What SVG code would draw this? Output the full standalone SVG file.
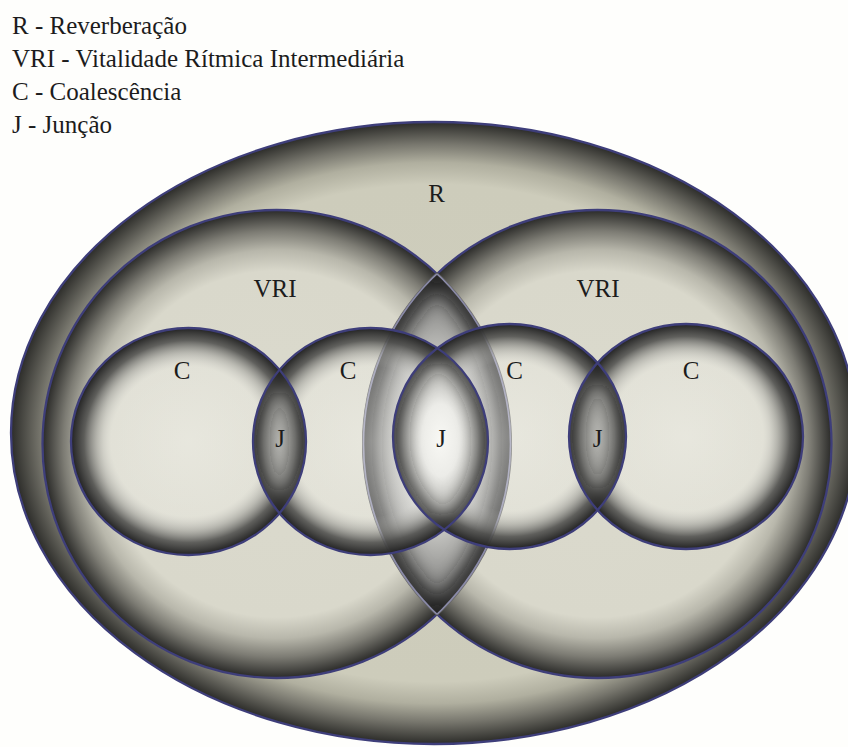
<svg xmlns="http://www.w3.org/2000/svg" width="848" height="747" viewBox="0 0 848 747">
<style>
  .lg { font-size: 25px; }
  .lb { font-size: 25px; text-anchor: middle; }
  .st { fill: none; stroke: #3e3e7a; stroke-width: 2.3; }
  .faint { fill: none; stroke: #8a8aa8; stroke-width: 1.6; }
  .sh { fill: none; stroke: #1e1e1e; stroke-width: 14; }
  .shL { fill: none; stroke: #1a1a1a; stroke-width: 18; }
</style>
<defs>
  <ellipse id="eR" cx="434" cy="433" rx="423" ry="311"/>
  <ellipse id="eVL" cx="276.5" cy="444" rx="234" ry="234"/>
  <ellipse id="eVR" cx="597.5" cy="444" rx="234" ry="234"/>
  <ellipse id="eC1" cx="188.5" cy="441.5" rx="117.5" ry="113.5"/>
  <ellipse id="eC2" cx="370.5" cy="441.5" rx="117.5" ry="113.5"/>
  <ellipse id="eC3" cx="509.5" cy="436.5" rx="116.5" ry="112.5"/>
  <ellipse id="eC4" cx="686" cy="436.5" rx="117" ry="112.5"/>

  <clipPath id="cpVL"><use href="#eVL"/></clipPath>
  <clipPath id="cpVR"><use href="#eVR"/></clipPath>
  <clipPath id="cpVLx"><ellipse cx="276.5" cy="444" rx="235.6" ry="235.6"/></clipPath>
  <clipPath id="cpVRx"><ellipse cx="597.5" cy="444" rx="235.6" ry="235.6"/></clipPath>
  <clipPath id="cpC1"><use href="#eC1"/></clipPath>
  <clipPath id="cpC2"><use href="#eC2"/></clipPath>
  <clipPath id="cpC3"><use href="#eC3"/></clipPath>
  <clipPath id="cpC4"><use href="#eC4"/></clipPath>

  <radialGradient id="gR">
    <stop offset="0" stop-color="#cfcebd"/>
    <stop offset="0.8" stop-color="#cdccbb"/>
    <stop offset="0.87" stop-color="#b0af9f"/>
    <stop offset="0.93" stop-color="#77766d"/>
    <stop offset="1" stop-color="#2c2c29"/>
  </radialGradient>
  <radialGradient id="gV">
    <stop offset="0" stop-color="#dbdacd"/>
    <stop offset="0.74" stop-color="#d9d8cb"/>
    <stop offset="0.83" stop-color="#b8b7ab"/>
    <stop offset="0.91" stop-color="#7d7c74"/>
    <stop offset="1" stop-color="#2a2a28"/>
  </radialGradient>
  <radialGradient id="gC">
    <stop offset="0" stop-color="#fafaf6" stop-opacity="0.42"/>
    <stop offset="0.66" stop-color="#f4f4f0" stop-opacity="0.32"/>
    <stop offset="0.78" stop-color="#a4a4a0" stop-opacity="0.6"/>
    <stop offset="0.89" stop-color="#525250" stop-opacity="0.9"/>
    <stop offset="1" stop-color="#222222" stop-opacity="1"/>
  </radialGradient>
  <radialGradient id="gL">
    <stop offset="0" stop-color="#eaeae6"/>
    <stop offset="0.45" stop-color="#d0d0cc"/>
    <stop offset="0.78" stop-color="#929290"/>
    <stop offset="1" stop-color="#555555"/>
  </radialGradient>
  <radialGradient id="gJs">
    <stop offset="0" stop-color="#b8b8b4"/>
    <stop offset="0.6" stop-color="#989894"/>
    <stop offset="1" stop-color="#5a5a58"/>
  </radialGradient>
  <radialGradient id="gJm">
    <stop offset="0" stop-color="#f8f8f4"/>
    <stop offset="0.4" stop-color="#ececE8"/>
    <stop offset="0.78" stop-color="#b8b8b4"/>
    <stop offset="1" stop-color="#787876"/>
  </radialGradient>
  <filter id="blur" x="-20%" y="-20%" width="140%" height="140%">
    <feGaussianBlur stdDeviation="10"/>
  </filter>
</defs>

<rect width="848" height="747" fill="#fefefc"/>

<g id="legend" font-family="Liberation Serif, DejaVu Serif, serif" fill="#1c1c1c">
  <text class="lg" x="12" y="34">R - Reverberação</text>
  <text class="lg" x="12" y="67">VRI - Vitalidade Rítmica Intermediária</text>
  <text class="lg" x="12" y="100">C - Coalescência</text>
  <text class="lg" x="12" y="133">J - Junção</text>
</g>

<g id="R">
  <use href="#eR" fill="url(#gR)"/>
  <use href="#eR" class="st"/>
</g>

<g id="VRI-left">
  <use href="#eVL" fill="url(#gV)"/>
  <use href="#eVL" class="st"/>
</g>
<g id="VRI-right">
  <use href="#eVR" fill="url(#gV)"/>
  <use href="#eVR" class="st"/>
</g>

<g id="VRI-overlap">
  <g clip-path="url(#cpVLx)">
    <g clip-path="url(#cpVRx)">
      <rect x="362" y="272" width="150" height="344" fill="url(#gL)"/>
    </g>
  </g>
  <g clip-path="url(#cpVL)">
    <g clip-path="url(#cpVR)">
      <g filter="url(#blur)">
        <use href="#eVL" class="shL"/>
        <use href="#eVR" class="shL"/>
      </g>
    </g>
  </g>
  <g clip-path="url(#cpVR)"><use href="#eVL" class="faint"/></g>
  <g clip-path="url(#cpVL)"><use href="#eVR" class="faint"/></g>
</g>

<g id="C-fills">
  <use href="#eC1" fill="url(#gC)"/>
  <use href="#eC2" fill="url(#gC)"/>
  <use href="#eC3" fill="url(#gC)"/>
  <use href="#eC4" fill="url(#gC)"/>
</g>

<g id="J-left">
  <g clip-path="url(#cpC1)">
    <g clip-path="url(#cpC2)">
      <rect x="253" y="370" width="53" height="143" fill="url(#gJs)"/>
      <g filter="url(#blur)">
        <use href="#eC1" class="sh"/>
        <use href="#eC2" class="sh"/>
      </g>
    </g>
  </g>
</g>
<g id="J-middle">
  <g clip-path="url(#cpC2)">
    <g clip-path="url(#cpC3)">
      <rect x="393" y="350" width="95" height="180" fill="url(#gJm)"/>
      <g filter="url(#blur)">
        <use href="#eC2" class="sh"/>
        <use href="#eC3" class="sh"/>
      </g>
    </g>
  </g>
</g>
<g id="J-right">
  <g clip-path="url(#cpC3)">
    <g clip-path="url(#cpC4)">
      <rect x="569" y="362" width="57" height="150" fill="url(#gJs)"/>
      <g filter="url(#blur)">
        <use href="#eC3" class="sh"/>
        <use href="#eC4" class="sh"/>
      </g>
    </g>
  </g>
</g>

<g id="C-outlines">
  <use href="#eC1" class="st"/>
  <use href="#eC2" class="st"/>
  <use href="#eC3" class="st"/>
  <use href="#eC4" class="st"/>
</g>

<g id="labels" font-family="Liberation Serif, DejaVu Serif, serif" fill="#1c1c1c">
  <text class="lb" x="436.5" y="202">R</text>
  <text class="lb" x="275" y="297">VRI</text>
  <text class="lb" x="598" y="297">VRI</text>
  <text class="lb" x="182" y="379">C</text>
  <text class="lb" x="348" y="379">C</text>
  <text class="lb" x="514.5" y="379">C</text>
  <text class="lb" x="691" y="379">C</text>
  <text class="lb" x="280" y="447">J</text>
  <text class="lb" x="441" y="447">J</text>
  <text class="lb" x="597.5" y="447">J</text>
</g>
</svg>
